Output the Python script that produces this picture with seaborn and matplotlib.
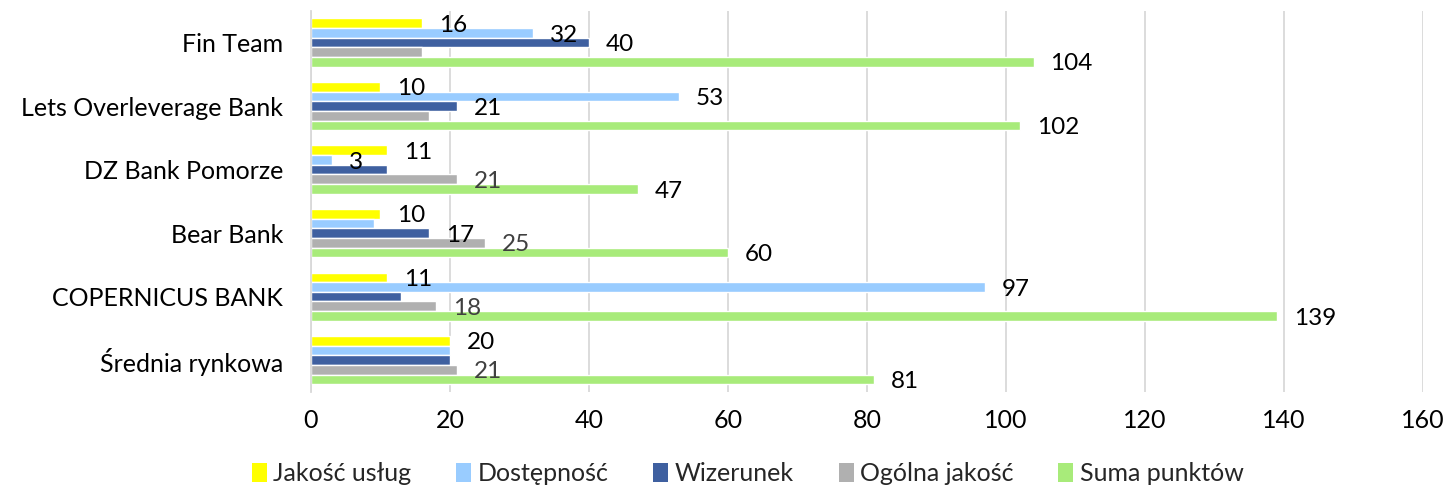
import matplotlib
matplotlib.use("Agg")
import matplotlib.pyplot as plt
import pandas as pd
import seaborn as sns
from matplotlib.patches import Patch

banks = ["Fin Team", "Lets Overleverage Bank", "DZ Bank Pomorze",
         "Bear Bank", "COPERNICUS BANK", "Średnia rynkowa"]
series = ["Jakość usług", "Dostępność", "Wizerunek", "Ogólna jakość", "Suma punktów"]

jakosc = [16, 10, 11, 10, 11, 20]
dostepnosc = [32, 53, 3, 9, 97, 20]
wizerunek = [40, 21, 11, 17, 13, 20]
ogolna = [16, 17, 21, 25, 18, 21]
suma = [104, 102, 47, 60, 139, 81]

# which data labels are visible in the original (the rest overlap and are hidden)
show_labels = [
    [1, 1, 1, 1, 1, 1],
    [1, 1, 1, 0, 1, 0],
    [1, 1, 0, 1, 0, 0],
    [0, 0, 1, 1, 1, 1],
    [1, 1, 1, 1, 1, 1],
]

colors = ["#FFFF00", "#99CCFF", "#3F60A0", "#B0B0B0", "#A8EB7A"]
label_colors = ["black", "black", "black", "#404040", "black"]

df = pd.DataFrame({
    "bank": banks * 5,
    "series": [s for s in series for _ in banks],
    "value": jakosc + dostepnosc + wizerunek + ogolna + suma,
})

sns.set_style("white")
plt.rcParams["font.family"] = ["Lato", "DejaVu Sans"]

fig = plt.figure(figsize=(14.49, 4.93), dpi=100)
ax = fig.add_axes([0.2146, 0.205, 0.7675, 0.773])

sns.barplot(data=df, y="bank", x="value", hue="series", order=banks,
            hue_order=series, palette=colors, orient="h", width=0.76,
            gap=0.0, saturation=1, legend=False, ax=ax)

for i, cont in enumerate(ax.containers):
    for j, bar in enumerate(cont):
        if not show_labels[i][j]:
            continue
        x = bar.get_width()
        y = bar.get_y() + bar.get_height() / 2
        ax.annotate(f"{int(round(x))}", (x, y), xytext=(12, -1.5),
                    textcoords="offset points", ha="left", va="center",
                    fontsize=17.5, color=label_colors[i])

ax.set_xlim(0, 160)
ax.set_xticks(range(0, 161, 20))
ax.set_xlabel("")
ax.set_ylabel("")
ax.grid(axis="x", color="#D9D9D9", linewidth=1.3)
ax.set_axisbelow(True)
for side in ["top", "right", "bottom"]:
    ax.spines[side].set_visible(False)
ax.spines["left"].set_color("#D9D9D9")
ax.spines["left"].set_linewidth(1.3)
ax.tick_params(axis="both", length=0, labelsize=18, colors="black")
ax.tick_params(axis="x", pad=12)
ax.tick_params(axis="y", pad=20)

handles = [Patch(facecolor=c, edgecolor="none") for c in colors]
fig.legend(handles, series, loc="lower center", bbox_to_anchor=(0.516, -0.03),
           ncol=5, frameon=False, fontsize=18, handlelength=0.6,
           handleheight=0.8, handletextpad=0.25, columnspacing=1.8)

fig.savefig("out.png", dpi=100)
